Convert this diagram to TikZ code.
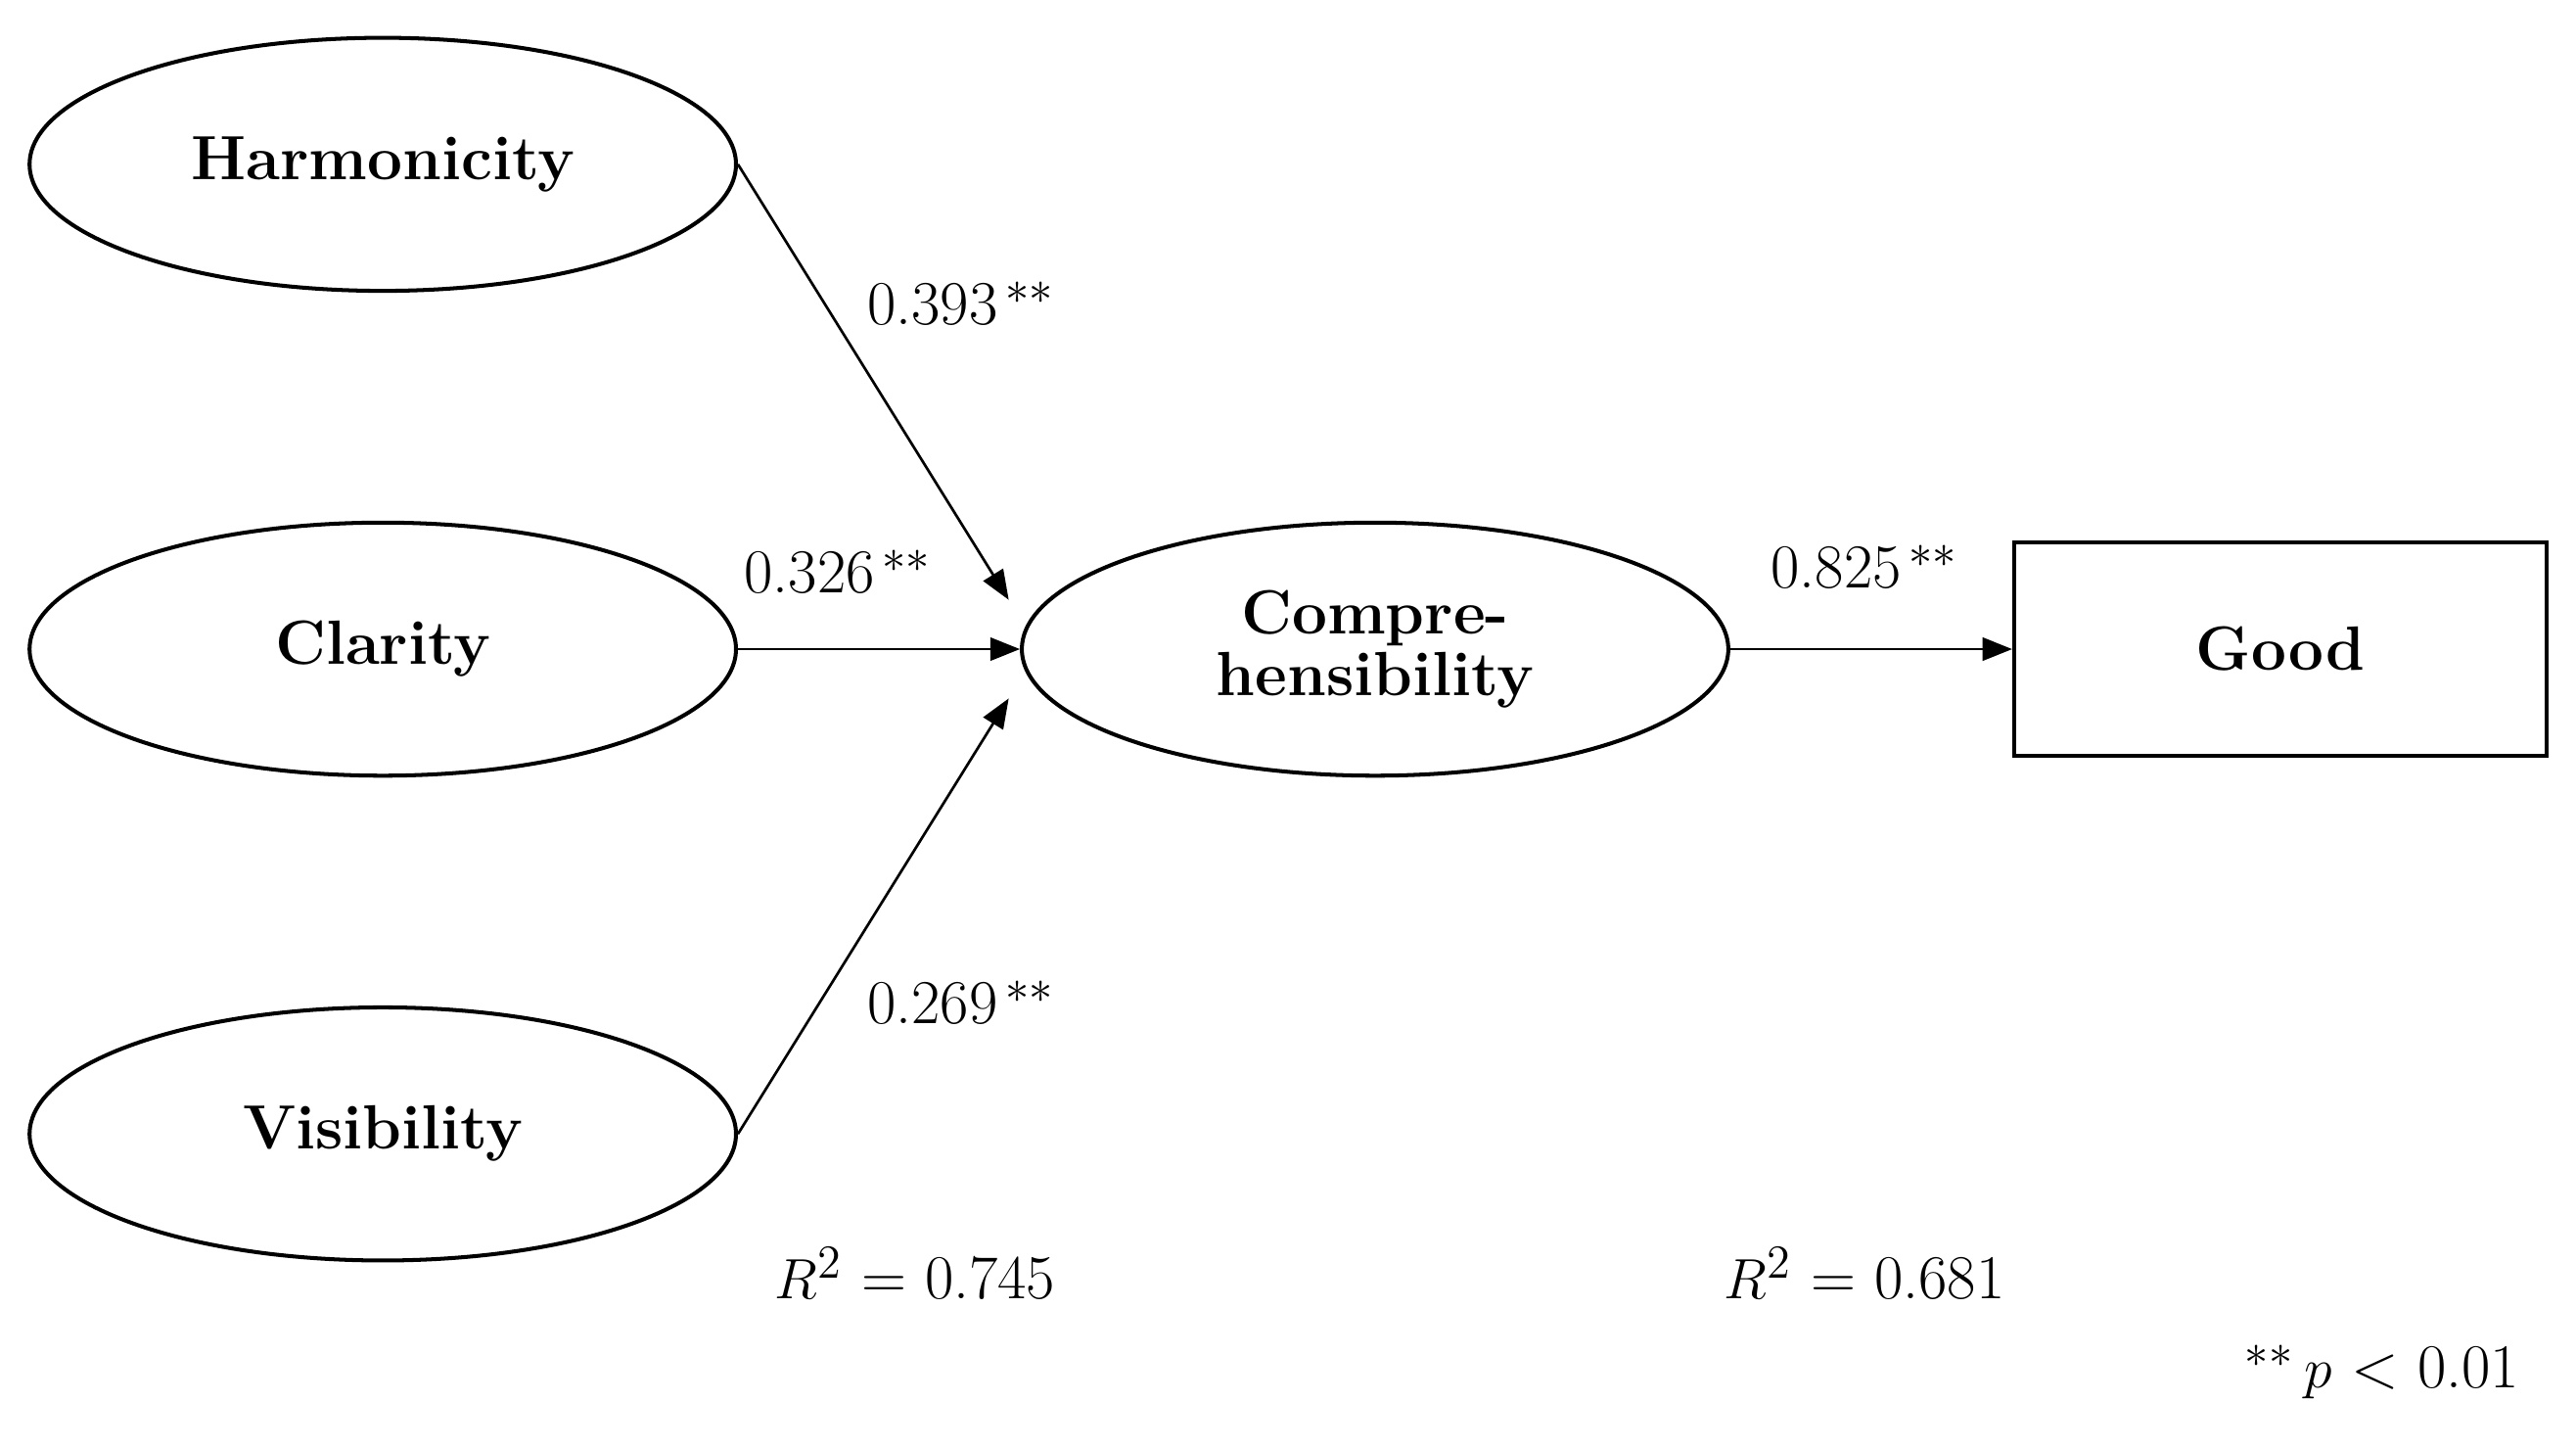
\documentclass[tikz,border=0pt]{standalone}
\usetikzlibrary{shapes.geometric,arrows.meta}
\begin{document}
\begin{tikzpicture}[x=0.5pt,y=-0.5pt,
  lat/.style={ellipse,draw,line width=1.2pt,minimum width=215pt,minimum height=77pt,inner sep=0pt,font=\fontsize{19}{22}\selectfont\bfseries,align=center},
  obs/.style={rectangle,draw,line width=1.2pt,minimum width=162pt,minimum height=65pt,inner sep=0pt,font=\fontsize{19}{22}\selectfont\bfseries},
  path/.style={line width=0.8pt,-{Triangle[length=9pt,width=7pt]}},
  lbl/.style={font=\fontsize{19}{22}\selectfont,inner sep=0pt}]
\useasboundingbox (0,0) rectangle (1568,881);
\node[lat] (h) at (233,100) {Harmonicity};
\node[lat] (c) at (233,395) {Clarity};
\node[lat] (v) at (233,690) {Visibility};
\node[lat] (m) at (837,395) {Compre-\\[-3pt]hensibility};
\node[obs] (g) at (1388,395) {Good};
\coordinate (t1) at (614,365);
\coordinate (t3) at (614,425);
\draw[path] (h.east) -- (t1);
\draw[path] (c.east) -- (m.west);
\draw[path] (v.east) -- (t3);
\draw[path] (m.east) -- (g.west);
\node[lbl] (l1) at (585,185) {0.393$^{\,**}$};
\node[lbl] (l2) at (510,348) {0.326$^{\,**}$};
\node[lbl] (l3) at (585,610) {0.269$^{\,**}$};
\node[lbl] (l4) at (1135,345) {0.825$^{\,**}$};
\node[lbl] (r1) at (557,775) {$R^2$ = 0.745};
\node[lbl] (r2) at (1135,775) {$R^2$ = 0.681};
\node[lbl] (p) at (1450,835) {$^{**}$\,$p$ < 0.01};
\end{tikzpicture}
\end{document}
